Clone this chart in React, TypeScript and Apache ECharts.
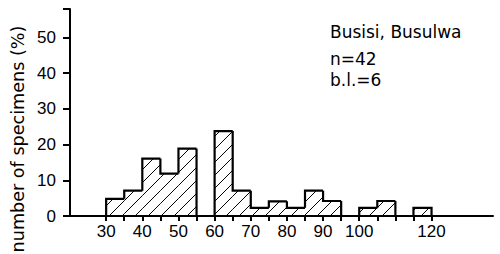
import React, { useEffect, useRef } from "react";
import * as echarts from "echarts";

const binStarts = [30, 35, 40, 45, 50, 55, 60, 65, 70, 75, 80, 85, 90, 95, 100, 105, 110, 115];
const binWidth = 5;
const percentages = [4.8, 7.1, 16.1, 11.9, 18.9, 0, 23.8, 7.1, 2.3, 4.1, 2.3, 7.1, 4.2, 0, 2.3, 4.2, 0, 2.3];
const xTickValues = [30, 35, 40, 45, 50, 55, 60, 65, 70, 75, 80, 85, 90, 95, 100, 105, 110, 115, 120];
const xLabelValues = [30, 40, 50, 60, 70, 80, 90, 100, 120];
const yAxisName = "number of specimens (%)";
const annotations = ["Busisi, Busulwa", "n=42", "b.l.=6"];

const NUM_FONT = "'Liberation Sans', Arial, sans-serif";
const TXT_FONT = "'DejaVu Sans', sans-serif";

export default function App() {
  const ref = useRef<HTMLDivElement>(null);

  useEffect(() => {
    if (!ref.current) return;
    const chart = echarts.init(ref.current, undefined, { renderer: "svg" });

    const data = binStarts.map((s, i) => [
      s,
      s + binWidth,
      percentages[i],
      i > 0 ? percentages[i - 1] : 0,
      i === binStarts.length - 1 ? 1 : 0,
    ]);

    const step = 13;

    const renderItem = (params: any, api: any) => {
      const x0 = api.value(0);
      const x1 = api.value(1);
      const v = api.value(2);
      const pv = api.value(3);
      const last = api.value(4);
      const pBL = api.coord([x0, 0]);
      const pTR = api.coord([x1, v]);
      const L = pBL[0];
      const B = pBL[1];
      const R = pTR[0];
      const T = pTR[1];
      const yPrev = api.coord([x0, pv])[1];
      const children: any[] = [];
      if (v > 0) {
        const kStart = Math.ceil((L + T) / step) * step;
        for (let k = kStart; k < R + B; k += step) {
          const xa = Math.max(L, k - B);
          const xb = Math.min(R, k - T);
          if (xb > xa) {
            children.push({
              type: "line",
              shape: { x1: xa, y1: k - xa, x2: xb, y2: k - xb },
              style: { stroke: "#000", lineWidth: 1 },
              silent: true,
            });
          }
        }
      }
      const pts: number[][] = [];
      if (v > 0 || pv > 0) {
        pts.push([L, yPrev]);
        pts.push([L, T]);
        if (v > 0) pts.push([R, T]);
        if (last && v > 0) pts.push([R, B]);
      }
      if (pts.length > 1) {
        children.push({
          type: "polyline",
          shape: { points: pts },
          style: { stroke: "#000", lineWidth: 2.2, fill: "none", lineJoin: "miter" },
          silent: true,
        });
      }
      return { type: "group", children };
    };

    const textStyle = (text: string, size: number) => ({
      text,
      fontSize: size,
      fontFamily: TXT_FONT,
      fill: "#000",
      align: "left",
      verticalAlign: "middle",
    });

    chart.setOption({
      animation: false,
      backgroundColor: "#fff",
      grid: { left: 70, right: 7, top: 9, bottom: 38, containLabel: false },
      xAxis: {
        type: "value",
        min: 20,
        max: 137,
        splitLine: { show: false },
        axisLine: { show: true, onZero: false, lineStyle: { color: "#000", width: 2 } },
        axisTick: {
          show: true,
          length: 5,
          customValues: xTickValues,
          lineStyle: { color: "#000", width: 2 },
        },
        axisLabel: {
          customValues: xLabelValues,
          margin: 7,
          color: "#000",
          fontSize: 17,
          fontFamily: NUM_FONT,
        },
      },
      yAxis: {
        type: "value",
        min: 0,
        max: 58,
        interval: 10,
        splitLine: { show: false },
        axisLine: { show: true, lineStyle: { color: "#000", width: 2 } },
        axisTick: {
          show: true,
          length: 7,
          lineStyle: { color: "#000", width: 2 },
        },
        axisLabel: {
          margin: 14,
          color: "#000",
          fontSize: 17,
          fontFamily: NUM_FONT,
          formatter: (val: number) => (val > 50 ? "" : String(val)),
        },
      },
      series: [
        {
          type: "custom",
          renderItem,
          data,
          encode: { x: [0, 1], y: 2 },
          clip: false,
          z: 5,
        },
      ],
      graphic: [
        {
          type: "text",
          x: 18,
          y: 139,
          rotation: Math.PI / 2,
          style: { ...textStyle(yAxisName, 17.6), align: "center" },
        },
        { type: "text", x: 330, y: 32, style: textStyle(annotations[0], 17) },
        { type: "text", x: 330, y: 59, style: textStyle(annotations[1], 17) },
        { type: "text", x: 330, y: 80, style: textStyle(annotations[2], 17) },
      ],
    });

    return () => {
      chart.dispose();
    };
  }, []);

  return (
    <div
      ref={ref}
      style={{ position: "fixed", left: 0, top: 0, width: 500, height: 254 }}
    />
  );
}
